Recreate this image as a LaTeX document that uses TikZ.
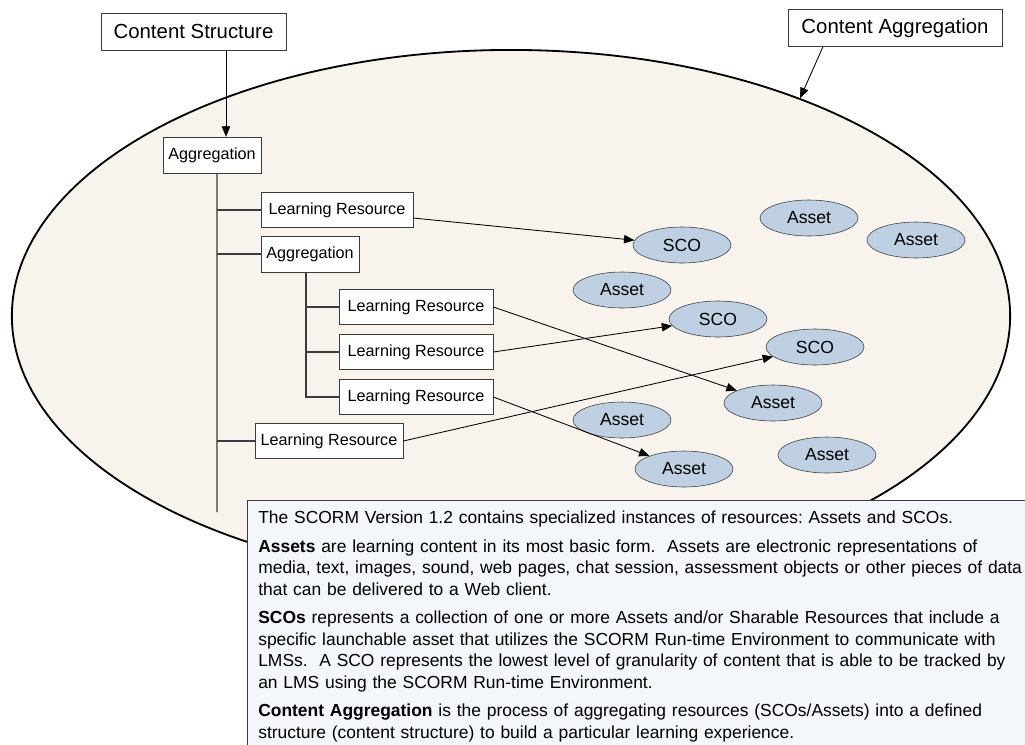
\documentclass[tikz,border=0pt]{standalone}
\usepackage{fontspec}
\setmainfont{Liberation Sans}
\usetikzlibrary{arrows.meta,positioning,shapes.geometric,calc}
\definecolor{aggfill}{RGB}{248,243,237}
\definecolor{itemfill}{RGB}{190,208,226}
\definecolor{notefill}{RGB}{243,246,250}
\definecolor{edgegray}{RGB}{60,60,60}
\frenchspacing
\tikzset{
    labelbox/.style={draw=edgegray, fill=white, font=\fontsize{14.5}{17}\selectfont,
        minimum height=0.92cm, inner sep=2pt},
    aggbox/.style={draw=edgegray, fill=white, font=\fontsize{11.5}{14}\selectfont,
        minimum height=0.9cm, minimum width=2.45cm, inner sep=2pt},
    resbox/.style={draw=edgegray, fill=white, font=\fontsize{11.5}{14}\selectfont,
        minimum height=0.88cm, minimum width=3.85cm, inner sep=2pt},
    itemnode/.style={ellipse, draw=edgegray, fill=itemfill, font=\fontsize{12.5}{15}\selectfont,
        minimum width=2.45cm, minimum height=0.9cm, inner sep=0pt},
    notebox/.style={draw=edgegray, fill=notefill, align=left, text width=19.75cm,
        font=\fontsize{12.4}{15.3}\selectfont, inner xsep=0.275cm, inner ysep=0.27cm},
    treeline/.style={draw=edgegray, line width=0.8pt},
    linkarrow/.style={-{Triangle[length=2.6mm,width=2.1mm]}, line width=0.6pt}
}

\begin{document}
\begin{tikzpicture}[x=0.025cm, y=-0.025cm]
\useasboundingbox (0,0) rectangle (1025,744);

% the aggregation
\node[ellipse, draw, line width=1.3pt, fill=aggfill, minimum width=24.95cm,
    minimum height=13.3cm, inner sep=0pt] (cagg) at (511,316) {};

\node[labelbox, minimum width=4.62cm] (cstruct) at (193.5,31.5) {Content Structure};
\node[labelbox, minimum width=5.35cm] (caggr) at (895,28) {Content Aggregation};

% content structure tree
\node[aggbox] (agg0) at (212,155) {Aggregation};
\node[resbox, minimum width=3.8cm] (lr1) at (337,210) {Learning Resource};
\node[aggbox] (agg1) at (310,254) {Aggregation};
\node[resbox] (lr2) at (416,307) {Learning Resource};
\node[resbox] (lr3) at (416,352) {Learning Resource};
\node[resbox] (lr4) at (416,397) {Learning Resource};
\node[resbox, minimum width=3.7cm] (lr5) at (329,441) {Learning Resource};
\coordinate (trunk) at (217,512);

% resources
\node[itemnode] (sco1) at (682,245) {SCO};
\node[itemnode] (sco2) at (718,319) {SCO};
\node[itemnode] (sco3) at (815,347) {SCO};
\node[itemnode] (asset1) at (809,218) {Asset};
\node[itemnode] (asset2) at (916,240) {Asset};
\node[itemnode] (asset3) at (622,290) {Asset};
\node[itemnode] (asset4) at (773,403) {Asset};
\node[itemnode] (asset5) at (622,420) {Asset};
\node[itemnode] (asset6) at (684,469) {Asset};
\node[itemnode] (asset7) at (827,455) {Asset};

\draw[treeline] ([xshift=0.125cm]agg0.south) -- (trunk);
\draw[treeline] (trunk |- lr1.west) -- (lr1.west);
\draw[treeline] (trunk |- agg1.west) -- (agg1.west);
\draw[treeline] (trunk |- lr5.west) -- (lr5.west);
\draw[treeline] ([xshift=-0.1cm]agg1.south) |- (lr4.west);
\draw[treeline] ([xshift=-0.1cm]agg1.south |- lr2.west) -- (lr2.west);
\draw[treeline] ([xshift=-0.1cm]agg1.south |- lr3.west) -- (lr3.west);

\draw[linkarrow] ([xshift=0.35cm]agg0.north |- cstruct.south) -- ([xshift=0.35cm]agg0.north);
\draw[linkarrow] ([xshift=-1.8cm]caggr.south) -- (cagg.37.6);
\draw[linkarrow] ([yshift=-0.2cm]lr1.east) -- (sco1);
\draw[linkarrow] (lr2.east) -- (asset4);
\draw[linkarrow] (lr3.east) -- (sco2);
\draw[linkarrow] (lr4.east) -- (asset6);
\draw[linkarrow] (lr5.east) -- (sco3);

% notes
\node[notebox, anchor=north west] (note) at (247,500) {%
The SCORM Version 1.2 contains specialized instances of resources: Assets and SCOs.\\[5pt]
\textbf{Assets} are learning content in its most basic form.\ \ Assets are electronic representations of\\
media, text, images, sound, web pages, chat session, assessment objects or other pieces of data\\
that can be delivered to a Web client.\\[5pt]
\textbf{SCOs} represents a collection of one or more Assets and/or Sharable Resources that include a\\
specific launchable asset that utilizes the SCORM Run-time Environment to communicate with\\
LMSs.\ \ A SCO represents the lowest level of granularity of content that is able to be tracked by\\
an LMS using the SCORM Run-time Environment.\\[5pt]
\textbf{Content Aggregation} is the process of aggregating resources (SCOs/Assets) into a defined\\
structure (content structure) to build a particular learning experience.};
\end{tikzpicture}
\end{document}
